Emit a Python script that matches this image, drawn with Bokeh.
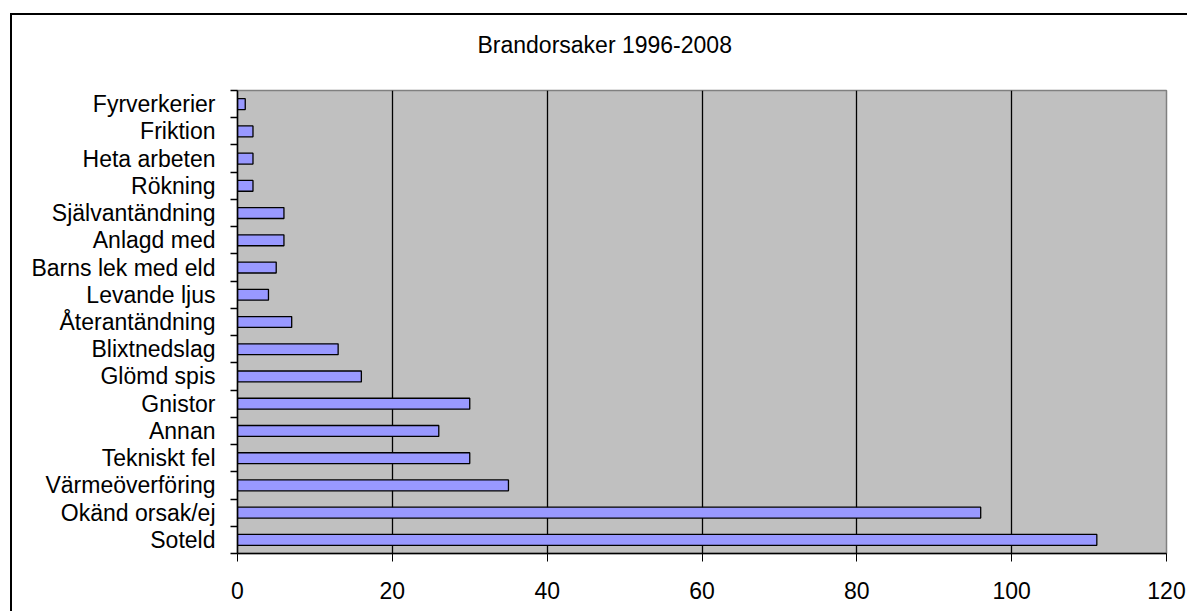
import numpy as np
from bokeh.plotting import figure
from bokeh.models import FixedTicker, ColumnDataSource, Range1d, Title
from bokeh.embed import file_html
from bokeh.resources import INLINE

title_text = "Brandorsaker 1996-2008"
categories = ["Soteld", "Okänd orsak/ej", "Värmeöverföring", "Tekniskt fel", "Annan",
              "Gnistor", "Glömd spis", "Blixtnedslag", "Återantändning", "Levande ljus",
              "Barns lek med eld", "Anlagd med", "Självantändning", "Rökning",
              "Heta arbeten", "Friktion", "Fyrverkerier"]
values = [111, 96, 35, 30, 26, 30, 16, 13, 7, 4, 5, 6, 6, 2, 2, 2, 1]
x_ticks = [0, 20, 40, 60, 80, 100, 120]

FONT = "Liberation Sans"
n = len(categories)
ypos = np.arange(n) + 0.5
src = ColumnDataSource(dict(y=ypos, v=values, cat=categories))

p = figure(width=1177, height=598, output_backend="svg", toolbar_location=None,
           x_range=Range1d(0, 120), y_range=Range1d(0, n),
           min_border_left=225, min_border_right=23, min_border_top=75, min_border_bottom=60,
           background_fill_color="#C0C0C0", border_fill_color="white",
           outline_line_color="#808080", outline_line_width=1.5,
           styles={"border-left": "2px solid black", "border-top": "2px solid black",
                   "margin-left": "10px", "margin-top": "13px"})

p.hbar(y="y", right="v", left=0, height=0.4, source=src,
       fill_color="#9999FF", line_color="black", line_width=1.3)

# title
p.title.text = title_text
p.title.text_font = FONT
p.title.text_font_size = "23px"
p.title.text_font_style = "normal"
p.title.text_color = "black"
p.title.align = "left"
p.title.offset = 240
p.title.standoff = 10
# empty spacer between the title and the frame
p.add_layout(Title(text=" ", text_font_size="1px", standoff=25), "above")

# x axis
p.xaxis.ticker = FixedTicker(ticks=x_ticks)
p.xaxis.major_tick_out = 8
p.xaxis.major_tick_in = 0
p.xaxis.minor_tick_line_color = None
p.xaxis.axis_line_color = "black"
p.xaxis.axis_line_width = 1.5
p.xaxis.major_label_text_font = FONT
p.xaxis.major_label_text_font_size = "23px"
p.xaxis.major_label_text_color = "black"
p.xaxis.major_label_standoff = 20

# y axis: labels at centres, tick marks at category boundaries
p.yaxis.ticker = FixedTicker(ticks=list(ypos), minor_ticks=list(range(n + 1)))
p.yaxis.major_label_overrides = {float(y): c for y, c in zip(ypos, categories)}
p.yaxis.major_tick_line_color = None
p.yaxis.major_tick_out = 0
p.yaxis.major_tick_in = 0
p.yaxis.minor_tick_out = 7
p.yaxis.minor_tick_in = 0
p.yaxis.minor_tick_line_color = "black"
p.yaxis.minor_tick_line_width = 1.5
p.yaxis.axis_line_color = "black"
p.yaxis.axis_line_width = 1.5
p.yaxis.major_label_text_font = FONT
p.yaxis.major_label_text_font_size = "23px"
p.yaxis.major_label_text_color = "black"
p.yaxis.major_label_standoff = 15

# grid
p.xgrid.ticker = FixedTicker(ticks=x_ticks[1:-1])
p.xgrid.grid_line_color = "black"
p.xgrid.grid_line_width = 1.3
p.ygrid.grid_line_color = None

open("out.html", "w").write(file_html(p, INLINE))
